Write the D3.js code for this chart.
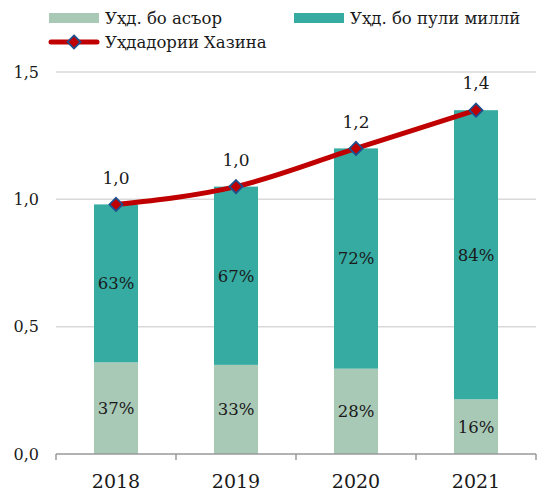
<!DOCTYPE html>
<html>
<head>
<meta charset="utf-8">
<script src="https://cdn.jsdelivr.net/npm/d3@7"></script>
<style>
  body { margin: 0; background: #fff; }
  text { font-family: "DejaVu Serif", serif; fill: #1a1a1a; }
</style>
</head>
<body>
<div id="chart"></div>
<script>
const years = ["2018", "2019", "2020", "2021"];
const foreignDebt = [0.36, 0.35, 0.335, 0.215];
const nationalDebt = [0.62, 0.70, 0.865, 1.135];
const treasuryDebt = [0.98, 1.05, 1.20, 1.35];
const treasuryLabels = ["1,0", "1,0", "1,2", "1,4"];
const foreignPct = ["37%", "33%", "28%", "16%"];
const nationalPct = ["63%", "67%", "72%", "84%"];
const yTicks = [0, 0.5, 1.0, 1.5];

const width = 538, height = 491;
const margin = { top: 72, right: 2, bottom: 37, left: 56 };
const innerWidth = width - margin.left - margin.right;
const innerHeight = height - margin.top - margin.bottom;

const colors = { foreign: "#a9c9b7", national: "#36aba2", line: "#c00000", marker: "#1f4e8c" };

const svg = d3.select("#chart").append("svg")
  .attr("width", width)
  .attr("height", height);

const chart = svg.append("g")
  .attr("transform", `translate(${margin.left},${margin.top})`);

const x = d3.scaleBand()
  .domain(years)
  .range([0, innerWidth])
  .paddingInner(0.633)
  .paddingOuter(0.3165);

const y = d3.scaleLinear()
  .domain([0, 1.5])
  .range([innerHeight, 0]);

// grid
chart.selectAll(".grid")
  .data(yTicks.filter(d => d > 0))
  .enter().append("line")
  .attr("x1", 0).attr("x2", innerWidth)
  .attr("y1", d => y(d)).attr("y2", d => y(d))
  .attr("stroke", "#d9d9d9")
  .attr("stroke-width", 1.5);

// y labels
chart.selectAll(".ylab")
  .data(yTicks)
  .enter().append("text")
  .attr("x", -17)
  .attr("y", d => y(d))
  .attr("dy", "0.36em")
  .attr("text-anchor", "end")
  .style("font-size", "16px")
  .text(d => d3.format(".1f")(d).replace(".", ","));

// stacked bars
const rows = years.map((yr, i) => ({ yr, f: foreignDebt[i], n: nationalDebt[i], fp: foreignPct[i], np: nationalPct[i] }));

chart.selectAll(".barF")
  .data(rows)
  .enter().append("rect")
  .attr("x", d => x(d.yr))
  .attr("width", x.bandwidth())
  .attr("y", d => y(d.f))
  .attr("height", d => y(0) - y(d.f))
  .attr("fill", colors.foreign);

chart.selectAll(".barN")
  .data(rows)
  .enter().append("rect")
  .attr("x", d => x(d.yr))
  .attr("width", x.bandwidth())
  .attr("y", d => y(d.f + d.n))
  .attr("height", d => y(d.f) - y(d.f + d.n))
  .attr("fill", colors.national);

chart.selectAll(".pctF")
  .data(rows)
  .enter().append("text")
  .attr("x", d => x(d.yr) + x.bandwidth() / 2)
  .attr("y", d => y(d.f / 2))
  .attr("dy", "0.36em")
  .attr("text-anchor", "middle")
  .style("font-size", "16.5px")
  .text(d => d.fp);

chart.selectAll(".pctN")
  .data(rows)
  .enter().append("text")
  .attr("x", d => x(d.yr) + x.bandwidth() / 2)
  .attr("y", d => y(d.f + d.n / 2))
  .attr("dy", "0.36em")
  .attr("text-anchor", "middle")
  .style("font-size", "16.5px")
  .text(d => d.np);

// x axis
const xAxis = chart.append("g")
  .attr("transform", `translate(0,${innerHeight})`);
xAxis.append("line")
  .attr("x1", 0).attr("x2", innerWidth)
  .attr("y1", 0).attr("y2", 0)
  .attr("stroke", "#999").attr("stroke-width", 1.5);
const step = x.step();
xAxis.selectAll(".tick")
  .data(d3.range(years.length + 1))
  .enter().append("line")
  .attr("x1", i => x(years[0]) - x.paddingOuter() * step + i * step)
  .attr("x2", i => x(years[0]) - x.paddingOuter() * step + i * step)
  .attr("y1", 0).attr("y2", 6)
  .attr("stroke", "#999").attr("stroke-width", 1.5);
xAxis.selectAll(".xlab")
  .data(years)
  .enter().append("text")
  .attr("x", d => x(d) + x.bandwidth() / 2)
  .attr("y", 34)
  .attr("text-anchor", "middle")
  .style("font-size", "19px")
  .text(d => d);

// treasury line
const pts = years.map((yr, i) => ({ yr, v: treasuryDebt[i], lab: treasuryLabels[i] }));
const line = d3.line()
  .x(d => x(d.yr) + x.bandwidth() / 2)
  .y(d => y(d.v))
  .curve(d3.curveMonotoneX);

chart.append("path")
  .datum(pts)
  .attr("fill", "none")
  .attr("stroke", colors.line)
  .attr("stroke-width", 5)
  .attr("stroke-linecap", "round")
  .attr("d", line);

const diamond = d3.symbol().type(d3.symbolDiamond2).size(110);
chart.selectAll(".mk")
  .data(pts)
  .enter().append("path")
  .attr("transform", d => `translate(${x(d.yr) + x.bandwidth() / 2},${y(d.v)})`)
  .attr("d", diamond)
  .attr("fill", colors.line)
  .attr("stroke", colors.marker)
  .attr("stroke-width", 1.8);

chart.selectAll(".vlab")
  .data(pts)
  .enter().append("text")
  .attr("x", d => x(d.yr) + x.bandwidth() / 2)
  .attr("y", d => y(d.v) - 27)
  .attr("dy", "0.36em")
  .attr("text-anchor", "middle")
  .style("font-size", "17px")
  .text(d => d.lab);

// legend
const legend = svg.append("g");
const legendItems = [
  { label: "Уҳд. бо асъор", type: "rect", color: colors.foreign, x: 49, y: 18 },
  { label: "Уҳд. бо пули миллӣ", type: "rect", color: colors.national, x: 294, y: 18 },
  { label: "Уҳдадории Хазина", type: "line", color: colors.line, x: 49, y: 42 }
];
legendItems.forEach(it => {
  const g = legend.append("g").attr("transform", `translate(${it.x},${it.y})`);
  if (it.type === "rect") {
    g.append("rect").attr("x", 0).attr("y", -5).attr("width", 50).attr("height", 10).attr("fill", it.color);
  } else {
    g.append("line").attr("x1", 2).attr("x2", 48).attr("y1", 0).attr("y2", 0)
      .attr("stroke", it.color).attr("stroke-width", 5).attr("stroke-linecap", "round");
    g.append("path").attr("transform", "translate(25,0)").attr("d", diamond)
      .attr("fill", it.color).attr("stroke", colors.marker).attr("stroke-width", 1.8);
  }
  g.append("text")
    .attr("x", 56)
    .attr("y", 0)
    .attr("dy", "0.36em")
    .style("font-size", "16.5px")
    .text(it.label);
});
</script>
</body>
</html>
